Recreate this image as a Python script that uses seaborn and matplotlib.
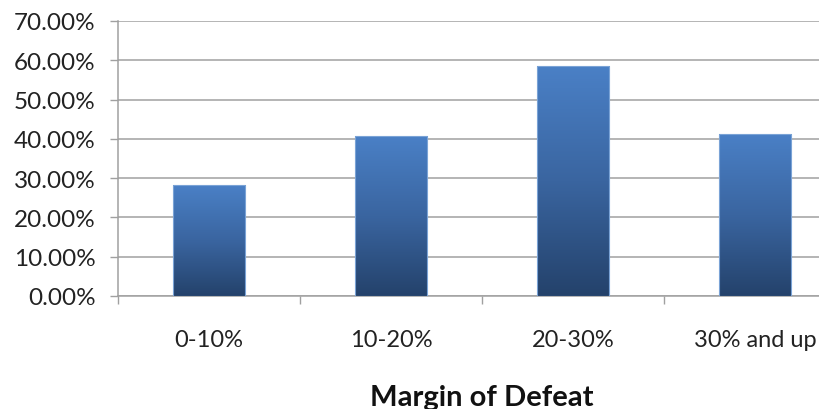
import matplotlib
matplotlib.use("Agg")
import matplotlib.pyplot as plt
from matplotlib.colors import LinearSegmentedColormap
from matplotlib.ticker import PercentFormatter
import numpy as np
import pandas as pd
import seaborn as sns

categories = ["0-10%", "10-20%", "20-30%", "30% and up"]
values = [0.282, 0.407, 0.585, 0.412]

sns.set_style("white")
plt.rcParams['font.family'] = ['Lato', 'DejaVu Sans']

df = pd.DataFrame({"margin": categories, "share": values})

fig = plt.figure(figsize=(8.2, 4.1), dpi=100)
ax = fig.add_axes([118 / 820, 113 / 410, 728 / 820, 275 / 410])

sns.barplot(data=df, x="margin", y="share", color="#4a7fc4", width=0.4, ax=ax, zorder=3)

# vertical gradient fill like the old office charts
cmap = LinearSegmentedColormap.from_list("bluegrad", ["#24426b", "#3a65a0", "#4a80c6"])
grad = np.linspace(0, 1, 256).reshape(-1, 1)
for p in ax.patches:
    x, w, h = p.get_x(), p.get_width(), p.get_height()
    ax.imshow(grad, extent=[x, x + w, 0, h], origin="lower", aspect="auto",
              cmap=cmap, zorder=3.5)
    p.set_facecolor("none")
    p.set_edgecolor("#7aa3d6")
    p.set_linewidth(0.8)
    p.set_zorder(4)

ax.set_xlim(-0.5, 3.5)
ax.set_ylim(0, 0.7)
ax.set_yticks(np.arange(0, 0.71, 0.1))
ax.yaxis.set_major_formatter(PercentFormatter(xmax=1, decimals=2))
ax.grid(axis="y", color="#a0a0a0", linewidth=1.1, zorder=0)
ax.set_axisbelow(True)

for s in ["top", "right"]:
    ax.spines[s].set_visible(False)
for s in ["left", "bottom"]:
    ax.spines[s].set_color("#a0a0a0")
    ax.spines[s].set_linewidth(1.1)

ax.tick_params(axis="y", which="major", length=6, width=1, color="#a0a0a0",
               labelsize=17.5, labelcolor="#222222", pad=10, direction="out", left=True)
ax.set_xticks(np.arange(-0.5, 4.0, 1.0), minor=True)
ax.tick_params(axis="x", which="minor", length=6, width=1, color="#a0a0a0",
               direction="out", bottom=True)
ax.tick_params(axis="x", which="major", length=0, labelsize=17,
               labelcolor="#222222", pad=24)

ax.set_xlabel("Margin of Defeat", fontsize=21, fontweight="bold", labelpad=24, color="#111111")
ax.set_ylabel("")

fig.savefig("out.png", dpi=100)
